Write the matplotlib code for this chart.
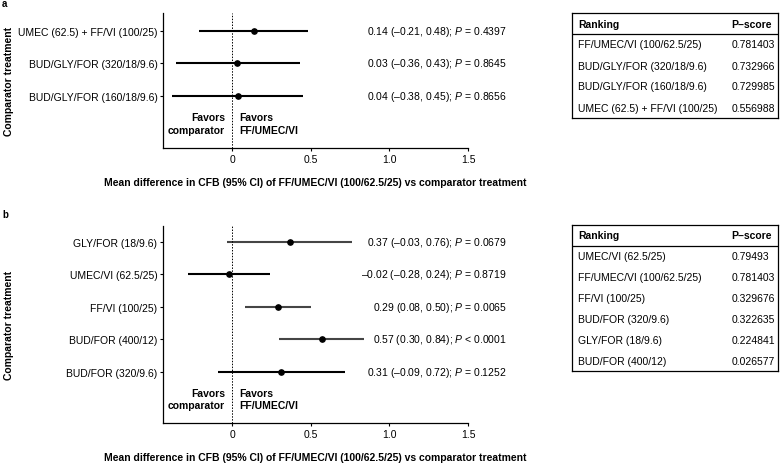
import matplotlib
matplotlib.use("Agg")
import matplotlib.pyplot as plt

plt.rcParams["font.family"] = ["Liberation Sans", "DejaVu Sans"]
plt.rcParams["mathtext.fontset"] = "custom"
plt.rcParams["mathtext.it"] = "Liberation Sans:italic"
plt.rcParams["mathtext.rm"] = "Liberation Sans"
plt.rcParams["font.size"] = 7.5

# ---------------------------
# Data: panel a
# ---------------------------
a_labels = ["UMEC (62.5) + FF/VI (100/25)", "BUD/GLY/FOR (320/18/9.6)", "BUD/GLY/FOR (160/18/9.6)"]
a_mean = [0.14, 0.03, 0.04]
a_low = [-0.21, -0.36, -0.38]
a_high = [0.48, 0.43, 0.45]
a_pval = ["= 0.4397", "= 0.8645", "= 0.8656"]

a_rank = ["FF/UMEC/VI (100/62.5/25)", "BUD/GLY/FOR (320/18/9.6)",
          "BUD/GLY/FOR (160/18/9.6)", "UMEC (62.5) + FF/VI (100/25)"]
a_pscore = ["0.781403", "0.732966", "0.729985", "0.556988"]

# ---------------------------
# Data: panel b
# ---------------------------
b_labels = ["GLY/FOR (18/9.6)", "UMEC/VI (62.5/25)", "FF/VI (100/25)", "BUD/FOR (400/12)", "BUD/FOR (320/9.6)"]
b_mean = [0.37, -0.02, 0.29, 0.57, 0.31]
b_low = [-0.03, -0.28, 0.08, 0.30, -0.09]
b_high = [0.76, 0.24, 0.50, 0.84, 0.72]
b_pval = ["= 0.0679", "= 0.8719", "= 0.0065", "< 0.0001", "= 0.1252"]

b_rank = ["UMEC/VI (62.5/25)", "FF/UMEC/VI (100/62.5/25)", "FF/VI (100/25)",
          "BUD/FOR (320/9.6)", "GLY/FOR (18/9.6)", "BUD/FOR (400/12)"]
b_pscore = ["0.79493", "0.781403", "0.329676", "0.322635", "0.224841", "0.026577"]

xticks = [0, 0.5, 1.0, 1.5]
xticklabels = ["0", "0.5", "1.0", "1.5"]

W, H = 782, 464


def fmt(v):
    return f"{v:.2f}".replace("-", "\u2013")


def px_axes(x0, y0, x1, y1):
    # pixel box (top-left origin) -> figure fraction rect
    return [x0 / W, 1 - y1 / H, (x1 - x0) / W, (y1 - y0) / H]


def forest(ax, labels, mean, low, high, pval, colors, ylim, favors_y):
    n = len(labels)
    ys = list(range(n, 0, -1))
    for y, m, lo, hi, c in zip(ys, mean, low, high, colors):
        ax.plot([lo, hi], [y, y], color=c, lw=1.5, solid_capstyle="butt")
        ax.plot(m, y, "o", color="black", ms=3.8)
    for y, m, lo, hi, p in zip(ys, mean, low, high, pval):
        ax.text(1.745, y, f"{fmt(m)} ({fmt(lo)}, {fmt(hi)}); $P$ {p}",
                ha="right", va="center", clip_on=False)
    ax.axvline(0, color="black", lw=0.7, ls=(0, (1.5, 1.5)))
    ax.set_xlim(-0.44, 1.5)
    ax.set_ylim(*ylim)
    ax.set_yticks(ys)
    ax.set_yticklabels(labels)
    ax.set_xticks(xticks)
    ax.set_xticklabels(xticklabels)
    ax.spines["top"].set_visible(False)
    ax.spines["right"].set_visible(False)
    ax.spines["left"].set_linewidth(0.9)
    ax.spines["bottom"].set_linewidth(0.9)
    ax.tick_params(length=2.5, width=0.8, pad=1.5)
    ax.text(-0.045, favors_y, "Favors\ncomparator", ha="right", va="center",
            fontweight="bold", linespacing=1.3)
    ax.text(0.045, favors_y, "Favors\nFF/UMEC/VI", ha="left", va="center",
            fontweight="bold", linespacing=1.3)
    ax.set_xlabel("Mean difference in CFB (95% CI) of FF/UMEC/VI (100/62.5/25) vs comparator treatment",
                  fontweight="bold", labelpad=9.5)
    ax.set_ylabel("Comparator treatment", fontweight="bold")
    ax.yaxis.set_label_coords(-0.49, 0.5)


def ranking_table(ax, names, scores):
    n = len(names) + 1
    ax.set_xlim(0, 1)
    ax.set_ylim(n, 0)
    ax.set_xticks([])
    ax.set_yticks([])
    for s in ax.spines.values():
        s.set_linewidth(0.9)
    ax.axhline(1, color="black", lw=0.9)
    ax.text(0.03, 0.5, "Ranking", fontweight="bold", va="center")
    ax.text(0.775, 0.5, "P\u2013score", fontweight="bold", va="center")
    for i, (nm, sc) in enumerate(zip(names, scores)):
        ax.text(0.03, i + 1.5, nm, va="center")
        ax.text(0.775, i + 1.5, sc, va="center")


fig = plt.figure(figsize=(W / 100, H / 100), dpi=100)

ax_a = fig.add_axes(px_axes(163, 14, 468, 149))
forest(ax_a, a_labels, a_mean, a_low, a_high, a_pval,
       ["black", "black", "black"], (-0.6, 3.55), 0.15)

ax_b = fig.add_axes(px_axes(163, 227, 468, 424))
forest(ax_b, b_labels, b_mean, b_low, b_high, b_pval,
       ["#454545", "black", "#454545", "#454545", "black"], (-0.57, 5.49), 0.17)

tab_a = fig.add_axes(px_axes(572, 14, 778, 119))
ranking_table(tab_a, a_rank, a_pscore)

tab_b = fig.add_axes(px_axes(572, 226, 778, 372))
ranking_table(tab_b, b_rank, b_pscore)

fig.text(2 / W, 1 - 4 / H, "a", fontweight="bold", fontsize=7, va="center")
fig.text(2 / W, 1 - 215 / H, "b", fontweight="bold", fontsize=7, va="center")

fig.savefig("out.png", dpi=100)
